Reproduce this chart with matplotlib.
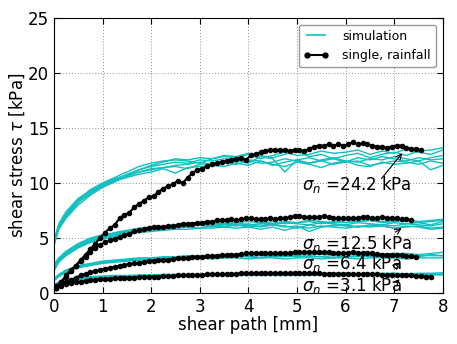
import numpy as np
import matplotlib
matplotlib.use("Agg")
import matplotlib.pyplot as plt

# shear path grid for the simulation runs [mm]
x_sim = [0, 0.1, 0.25, 0.5, 0.75, 1.0, 1.25, 1.5, 1.75, 2.0, 2.25, 2.5, 2.75, 3.0,
         3.25, 3.5, 3.75, 4.0, 4.25, 4.5, 4.75, 5.0, 5.25, 5.5, 5.75, 6.0, 6.25,
         6.5, 6.75, 7.0, 7.25, 7.5, 7.75, 8.0]

# simulation runs, sigma_n = 24.2 kPa
sim_242 = [
    [4.3, 5.8, 6.8, 8.0, 8.9, 9.6, 10.1, 10.6, 11.0, 11.2, 11.4, 11.5, 11.3, 11.7, 11.8, 11.9, 11.7,
     12.0, 11.8, 11.9, 12.2, 12.0, 11.8, 12.1, 12.3, 12.0, 11.9, 12.2, 12.1, 12.4, 12.2, 12.0, 12.3, 12.5],
    [4.6, 6.1, 7.2, 8.5, 9.4, 10.0, 10.5, 11.0, 11.5, 11.8, 12.0, 12.1, 12.0, 11.8, 12.2, 12.4, 12.3,
     12.6, 12.2, 12.5, 12.8, 12.5, 12.6, 12.9, 12.7, 12.8, 13.0, 12.6, 12.9, 12.7, 13.1, 12.8, 12.6, 13.0],
    [4.8, 6.3, 7.4, 8.6, 9.3, 9.8, 10.2, 10.5, 10.8, 11.0, 11.3, 10.9, 11.4, 11.5, 11.6, 11.5, 11.8,
     11.6, 12.0, 11.7, 11.5, 11.9, 11.7, 11.4, 11.8, 12.0, 11.6, 11.5, 11.9, 11.7, 11.8, 12.0, 11.2, 11.6],
    [4.4, 5.9, 6.9, 8.2, 9.1, 9.8, 10.3, 10.8, 11.2, 11.5, 11.7, 11.9, 11.8, 12.1, 12.0, 12.2, 12.1,
     11.8, 12.4, 12.2, 11.0, 12.1, 12.3, 12.0, 12.2, 11.9, 12.3, 12.1, 12.4, 12.2, 12.0, 12.3, 12.1, 12.2],
    [4.6, 6.0, 7.1, 8.4, 9.2, 9.9, 10.4, 10.7, 11.2, 11.6, 11.9, 12.2, 12.1, 12.3, 12.2, 12.5, 12.4,
     12.7, 12.5, 12.3, 12.6, 12.9, 12.4, 12.6, 12.2, 12.5, 12.7, 12.3, 12.6, 12.8, 12.5, 12.9, 13.0, 13.2],
    [4.5, 6.0, 7.0, 8.3, 9.0, 9.7, 10.2, 10.6, 11.0, 11.3, 11.4, 11.6, 11.7, 11.9, 11.7, 12.0, 11.9,
     12.1, 12.0, 11.6, 11.9, 12.1, 11.8, 12.0, 11.7, 11.9, 12.0, 11.6, 11.8, 12.0, 11.9, 11.7, 12.0, 11.8],
]

# simulation runs, sigma_n = 12.5 kPa
sim_125 = [
    [2.0, 2.8, 3.4, 4.1, 4.6, 4.9, 5.1, 5.3, 5.5, 5.6, 5.7, 5.8, 5.8, 5.9, 5.9, 6.0, 5.9,
     6.0, 5.8, 6.0, 5.7, 6.0, 5.9, 6.1, 6.0, 5.9, 6.1, 6.0, 6.1, 5.9, 6.0, 6.1, 5.9, 6.0],
    [2.4, 3.1, 3.7, 4.4, 4.9, 5.2, 5.5, 5.7, 5.9, 6.0, 6.1, 6.2, 6.3, 6.3, 6.4, 6.3, 6.4,
     6.5, 6.4, 6.3, 6.5, 6.4, 6.6, 6.5, 6.4, 6.6, 6.5, 6.6, 6.5, 6.6, 6.7, 6.5, 6.6, 6.7],
    [2.2, 2.9, 3.5, 4.2, 4.7, 5.0, 5.2, 5.4, 5.6, 5.7, 5.8, 5.9, 6.0, 5.9, 6.1, 6.0, 6.2,
     6.0, 6.1, 6.2, 6.0, 6.1, 5.6, 6.0, 6.1, 6.2, 6.0, 6.1, 6.2, 6.1, 6.3, 6.2, 6.1, 6.3],
    [2.6, 3.2, 3.8, 4.5, 5.0, 5.3, 5.4, 5.6, 5.7, 5.8, 6.0, 6.1, 6.0, 6.2, 6.1, 6.3, 6.2,
     6.1, 6.3, 6.2, 6.4, 6.3, 6.2, 6.4, 6.3, 6.2, 6.4, 6.3, 6.2, 6.4, 6.3, 6.4, 6.2, 6.5],
    [2.3, 3.0, 3.6, 4.3, 4.8, 5.1, 5.3, 5.5, 5.7, 5.9, 5.9, 6.0, 6.1, 6.2, 6.0, 6.2, 6.1,
     6.3, 6.0, 6.2, 6.1, 5.9, 6.2, 6.0, 6.2, 6.1, 6.0, 6.2, 6.1, 5.9, 6.1, 6.0, 5.8, 5.9],
    [2.5, 3.1, 3.6, 4.3, 4.7, 5.1, 5.4, 5.6, 5.7, 5.9, 6.0, 6.1, 6.1, 6.2, 6.3, 6.2, 6.4,
     6.2, 6.3, 6.5, 6.3, 6.4, 6.5, 6.3, 6.5, 6.4, 6.5, 6.6, 6.4, 6.5, 6.6, 6.4, 6.5, 6.6],
]

# simulation runs, sigma_n = 6.4 kPa
sim_64 = [
    [1.1, 1.5, 1.9, 2.3, 2.5, 2.7, 2.8, 2.9, 3.0, 3.0, 3.1, 3.1, 3.1, 3.2, 3.1, 3.2, 3.2,
     3.1, 3.2, 3.2, 3.1, 3.2, 3.2, 3.1, 3.2, 3.2, 3.1, 3.2, 3.2, 3.2, 3.1, 3.2, 3.2, 3.2],
    [1.3, 1.7, 2.1, 2.5, 2.7, 2.9, 3.0, 3.1, 3.2, 3.2, 3.3, 3.3, 3.4, 3.4, 3.4, 3.5, 3.4,
     3.5, 3.5, 3.4, 3.5, 3.5, 3.6, 3.5, 3.5, 3.6, 3.5, 3.6, 3.5, 3.6, 3.6, 3.5, 3.6, 3.7],
    [1.2, 1.6, 2.0, 2.4, 2.6, 2.8, 2.9, 3.0, 3.1, 3.1, 3.2, 3.2, 3.3, 3.3, 3.3, 3.3, 3.4,
     3.3, 3.4, 3.3, 3.4, 3.3, 3.4, 3.3, 3.4, 3.3, 3.4, 3.3, 3.4, 3.4, 3.3, 3.4, 3.4, 3.4],
    [1.2, 1.6, 2.0, 2.4, 2.6, 2.8, 2.9, 3.0, 3.0, 3.1, 3.1, 3.2, 3.2, 3.2, 3.3, 3.2, 3.3,
     3.3, 3.2, 3.3, 3.3, 3.4, 3.3, 3.3, 3.2, 3.3, 3.3, 3.4, 3.3, 3.3, 3.4, 3.3, 3.5, 3.4],
]

# simulation runs, sigma_n = 3.1 kPa
sim_31 = [
    [0.6, 0.8, 1.0, 1.2, 1.3, 1.35, 1.4, 1.45, 1.5, 1.5, 1.5, 1.55, 1.55, 1.55, 1.6, 1.6, 1.6,
     1.6, 1.6, 1.6, 1.6, 1.6, 1.6, 1.65, 1.6, 1.6, 1.65, 1.6, 1.6, 1.65, 1.6, 1.65, 1.65, 1.65],
    [0.8, 1.0, 1.2, 1.4, 1.5, 1.55, 1.6, 1.6, 1.65, 1.65, 1.7, 1.7, 1.7, 1.7, 1.75, 1.75, 1.75,
     1.75, 1.8, 1.75, 1.75, 1.8, 1.8, 1.75, 1.8, 1.8, 1.75, 1.8, 1.8, 1.8, 1.75, 1.8, 1.8, 1.85],
    [0.7, 0.9, 1.1, 1.3, 1.4, 1.45, 1.5, 1.5, 1.55, 1.6, 1.6, 1.6, 1.65, 1.65, 1.65, 1.7, 1.7,
     1.7, 1.7, 1.7, 1.7, 1.7, 1.7, 1.7, 1.7, 1.75, 1.7, 1.7, 1.7, 1.75, 1.7, 1.7, 1.75, 1.7],
    [0.7, 0.9, 1.1, 1.3, 1.35, 1.4, 1.45, 1.5, 1.5, 1.55, 1.55, 1.6, 1.6, 1.6, 1.6, 1.65, 1.65,
     1.6, 1.65, 1.65, 1.6, 1.65, 1.65, 1.7, 1.65, 1.65, 1.7, 1.65, 1.7, 1.7, 1.65, 1.7, 1.7, 1.7],
]

# single shear test after rainfall, sampled every 0.1 mm from 0.05 mm
exp_242 = [0.5, 1.0, 1.6, 2.1, 2.5, 3.0, 3.5, 4.0, 4.5, 5.0,
           5.5, 5.9, 6.2, 6.8, 7.1, 7.3, 7.8, 8.1, 8.4, 8.7,
           8.8, 9.2, 9.5, 9.7, 9.9, 10.2, 10.0, 10.5, 10.9, 11.2,
           11.3, 11.5, 11.7, 11.8, 11.9, 12.0, 12.1, 12.2, 12.3, 12.1,
           12.5, 12.6, 12.8, 12.9, 13.0, 13.0, 13.0, 13.0, 12.9, 13.0,
           13.0, 12.9, 13.1, 13.3, 13.4, 13.4, 13.5, 13.4, 13.5, 13.4,
           13.5, 13.7, 13.5, 13.6, 13.5, 13.4, 13.3, 13.3, 13.2, 13.3,
           13.4, 13.4, 13.2, 13.1, 13.1, 13.0]
exp_125 = [0.6, 1.0, 1.5, 2.0, 2.5, 2.9, 3.3, 3.7, 4.1, 4.4,
           4.6, 4.8, 4.9, 5.1, 5.3, 5.4, 5.6, 5.7, 5.8, 5.9,
           6.0, 6.0, 6.0, 6.1, 6.1, 6.2, 6.3, 6.3, 6.3, 6.4,
           6.4, 6.5, 6.5, 6.6, 6.6, 6.6, 6.7, 6.6, 6.7, 6.8,
           6.8, 6.7, 6.7, 6.7, 6.8, 6.7, 6.8, 6.8, 6.9, 7.0,
           7.0, 6.9, 6.9, 6.9, 6.9, 7.0, 6.9, 6.8, 6.8, 6.8,
           6.8, 6.8, 6.8, 6.9, 6.9, 6.8, 6.8, 6.9, 6.8, 6.8,
           6.8, 6.7, 6.7, 6.6]
exp_64 = [0.5, 0.8, 1.0, 1.2, 1.4, 1.6, 1.75, 1.9, 2.0, 2.1,
          2.2, 2.3, 2.4, 2.5, 2.55, 2.6, 2.7, 2.75, 2.8, 2.9,
          2.95, 3.0, 3.0, 3.05, 3.1, 3.15, 3.2, 3.2, 3.25, 3.3,
          3.3, 3.35, 3.4, 3.4, 3.45, 3.45, 3.5, 3.5, 3.55, 3.6,
          3.6, 3.6, 3.65, 3.6, 3.6, 3.65, 3.6, 3.6, 3.65, 3.7,
          3.7, 3.75, 3.7, 3.7, 3.75, 3.7, 3.7, 3.65, 3.65, 3.6,
          3.65, 3.7, 3.65, 3.6, 3.6, 3.6, 3.55, 3.5, 3.5, 3.5,
          3.45, 3.45, 3.4, 3.35, 3.3]
exp_31 = [0.5, 0.65, 0.8, 0.9, 1.0, 1.05, 1.1, 1.15, 1.2, 1.25,
          1.3, 1.3, 1.35, 1.35, 1.4, 1.4, 1.4, 1.45, 1.45, 1.5,
          1.5, 1.5, 1.55, 1.55, 1.55, 1.6, 1.6, 1.6, 1.65, 1.65,
          1.65, 1.7, 1.7, 1.7, 1.7, 1.75, 1.75, 1.75, 1.8, 1.8,
          1.8, 1.8, 1.8, 1.8, 1.85, 1.8, 1.8, 1.8, 1.8, 1.85,
          1.8, 1.8, 1.8, 1.8, 1.8, 1.75, 1.75, 1.75, 1.75, 1.75,
          1.75, 1.75, 1.7, 1.7, 1.7, 1.7, 1.7, 1.65, 1.65, 1.65,
          1.6, 1.6, 1.6, 1.6, 1.55, 1.55, 1.5, 1.5]

labels = [r'$\sigma_n$ =24.2 kPa', r'$\sigma_n$ =12.5 kPa', r'$\sigma_n$ =6.4 kPa', r'$\sigma_n$ =3.1 kPa']
label_pos = [(5.1, 9.9), (5.1, 4.55), (5.1, 2.65), (5.1, 0.7)]
arrow_tail = [(6.7, 10.2), (6.98, 5.4), (7.0, 2.3), (7.0, 0.75)]
arrow_head = [(7.2, 12.9), (7.2, 6.05), (7.15, 2.95), (7.15, 1.45)]

cyan = '#10bfbf'

fig = plt.figure(figsize=(4.57, 3.44), dpi=100)
ax = fig.add_axes([0.118, 0.148, 0.851, 0.800])

for group in [sim_242, sim_125, sim_64, sim_31]:
    for run in group:
        ax.plot(x_sim, run, color=cyan, lw=1.0, zorder=2)

for series in [exp_242, exp_125, exp_64, exp_31]:
    x_exp = 0.05 + 0.1 * np.arange(len(series))
    ax.plot(x_exp, series, color='k', lw=1.5, marker='o', ms=3, zorder=3)

# legend handles
ax.plot([], [], color=cyan, lw=1.2, label='simulation')
ax.plot([], [], color='k', lw=1.5, marker='o', ms=3.5, label='single, rainfall')

for txt, pos, tail, head in zip(labels, label_pos, arrow_tail, arrow_head):
    ax.text(pos[0], pos[1], txt, fontsize=12, ha='left', va='center', zorder=4)
    ax.annotate('', xy=head, xytext=tail,
                arrowprops=dict(arrowstyle='->', color='k', lw=0.8), zorder=4)

ax.set_xlim(0, 8)
ax.set_ylim(0, 25)
ax.set_xticks(range(0, 9))
ax.set_yticks(range(0, 26, 5))
ax.tick_params(direction='in', top=True, right=True, labelsize=12, length=4)
ax.grid(True, ls=(0, (1, 2)), color='0.55', lw=0.7)
ax.set_axisbelow(True)
ax.set_xlabel('shear path [mm]', fontsize=12, labelpad=0)
ax.set_ylabel(r'shear stress $\tau$ [kPa]', fontsize=12, labelpad=1)

leg = ax.legend(loc='upper right', fontsize=9, numpoints=2, fancybox=True,
                framealpha=1, borderaxespad=0.55, handlelength=2.0,
                handletextpad=1.1, borderpad=0.4, labelspacing=0.5)
leg.get_frame().set_edgecolor('0.6')

fig.savefig('out.png', dpi=100)
